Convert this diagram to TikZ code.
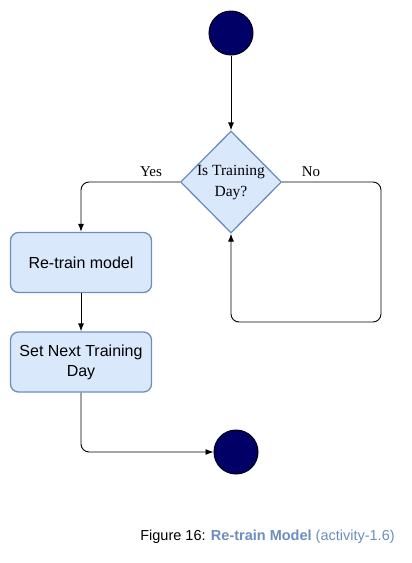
\documentclass[tikz,border=0pt]{standalone}
\usepackage{fontspec}
\setmainfont{Liberation Serif}
\setsansfont{Liberation Sans}
\usetikzlibrary{shapes.geometric,arrows.meta}
\definecolor{boxfill}{HTML}{DAE8FC}
\definecolor{boxline}{HTML}{6C8EBF}
\definecolor{navy}{HTML}{000066}
\definecolor{capblue}{HTML}{6C8EBF}
\begin{document}
\begin{tikzpicture}[x=1pt,y=-1pt,
  startend/.style={circle,fill=navy,draw=black!80!navy,line width=1pt,minimum size=44pt,inner sep=0pt},
  actbox/.style={rectangle,rounded corners=8pt,fill=boxfill,draw=boxline,line width=1.3pt,minimum width=141pt,minimum height=60pt,align=center,font=\sffamily\fontsize{16}{20}\selectfont,inner sep=0pt},
  decis/.style={diamond,fill=boxfill,draw=boxline,line width=1.3pt,minimum width=101pt,minimum height=102pt,inner sep=0pt},
  conn/.style={line width=0.9pt,rounded corners=8pt,-{Latex[length=8pt,width=6pt]}},
  lbl/.style={font=\fontsize{15}{16}\selectfont,inner sep=0pt}]
\useasboundingbox (0,0) rectangle (412,563);
\node[startend] (start) at (231,33) {};
\node[decis] (dec) at (231,182) {};
\node[font=\fontsize{15.5}{21}\selectfont,align=center,inner sep=0pt] (dectxt) at (231,182.5) {Is Training\\Day?};
\node[actbox] (retrain) at (81,262.5) {Re-train model};
\node[actbox] (setnext) at (81,362) {Set Next Training\\Day};
\node[startend] (end) at (236,452) {};
\coordinate (yescorner) at (81,182);
\coordinate (noc1) at (381,182);
\coordinate (noc2) at (381,322);
\coordinate (noc3) at (231,322);
\coordinate (endc) at (81,452);
\draw[conn] (start) -- (dec.north);
\draw[conn] (dec.west) -- (yescorner) -- (retrain.north);
\draw[conn] (dec.east) -- (noc1) -- (noc2) -- (noc3) -- (dec.south);
\draw[conn] (retrain) -- (setnext);
\draw[conn] (setnext.south) -- (endc) -- (end.west);
\node[lbl] (yes) at (151,172) {Yes};
\node[lbl] (no) at (311,172) {No};
\node[font=\sffamily\fontsize{14.5}{18}\selectfont,inner sep=0pt] (cap) at (267.5,537) {Figure 16: \textcolor{capblue}{\textbf{Re-train Model} (activity-1.6)}};
\end{tikzpicture}
\end{document}
